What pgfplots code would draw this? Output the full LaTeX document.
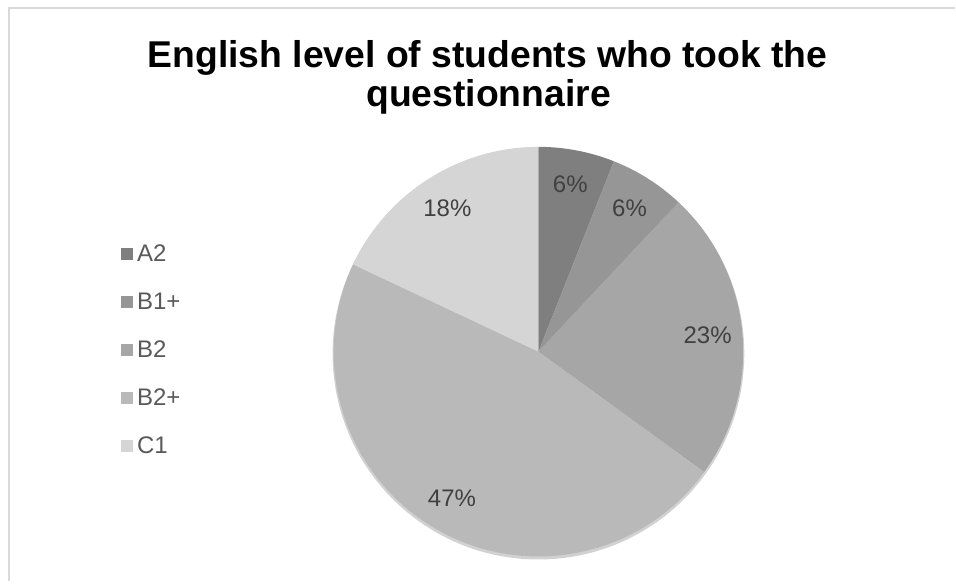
\documentclass[border=0pt]{standalone}
\usepackage{fontspec}
\setmainfont{Liberation Sans}
\usepackage{pgfplots}
\usepackage{pgfplotstable}
\pgfplotsset{compat=1.18}

\definecolor{cA}{HTML}{7F7F7F}
\definecolor{cB}{HTML}{969696}
\definecolor{cC}{HTML}{A6A6A6}
\definecolor{cD}{HTML}{B9B9B9}
\definecolor{cE}{HTML}{D5D5D5}
\definecolor{framegray}{HTML}{D9D9D9}
\definecolor{labgray}{HTML}{404040}
\definecolor{leggray}{HTML}{595959}

% share of each level, percent
\pgfplotstableread{
label value color
A2 6 cA
B1+ 6 cB
B2 23 cC
B2+ 47 cD
C1 18 cE
}\piedata

\def\R{153.75pt}

\begin{document}
\begin{tikzpicture}
\begin{axis}[
  scale only axis,
  width=717pt, height=436.5pt,
  xmin=0, xmax=956, ymin=0, ymax=582,
  y dir=reverse,
  hide axis, clip=false,
]
\pgfplotsextra{
  \fill[white] (axis cs:0,0) rectangle (axis cs:956,582);
  \draw[framegray, line width=1.5pt] (axis cs:9,582) -- (axis cs:9,8) -- (axis cs:956,8);
  \node[anchor=base, font=\fontsize{28}{30}\selectfont\bfseries] at (axis cs:488,68) {English level of students who took the};
  \node[anchor=base, font=\fontsize{28}{30}\selectfont\bfseries] at (axis cs:489,107) {questionnaire};
  % shadow
  \fill[black, opacity=0.18] (axis cs:539,354) circle[radius=\R+0.8pt];
  \xdef\cum{0}
  \foreach \i in {0,...,4} {
    \pgfplotstablegetelem{\i}{value}\of\piedata \let\v\pgfplotsretval
    \pgfplotstablegetelem{\i}{color}\of\piedata \let\c\pgfplotsretval
    \pgfplotstablegetelem{\i}{label}\of\piedata \let\l\pgfplotsretval
    \pgfmathsetmacro\a{90-3.6*\cum}
    \pgfmathsetmacro\b{90-3.6*(\cum+\v)}
    \pgfmathsetmacro\m{(\a+\b)/2}
    \fill[\c] (axis cs:539,352) -- ++(\a:\R) arc[start angle=\a, end angle=\b, radius=\R] -- cycle;
    \path (axis cs:539,352) ++(\m:0.83*\R) node[text=labgray, font=\fontsize{18}{20}\selectfont] {\v\%};
    \fill[\c] (axis cs:121,{248+48*\i}) rectangle (axis cs:133,{260+48*\i});
    \node[anchor=base west, text=leggray, inner sep=0pt, font=\fontsize{18}{20}\selectfont] at (axis cs:137,{262+48*\i}) {\l};
    \pgfmathsetmacro\nc{\cum+\v}
    \xdef\cum{\nc}
  }
}
\end{axis}
\end{tikzpicture}
\end{document}
